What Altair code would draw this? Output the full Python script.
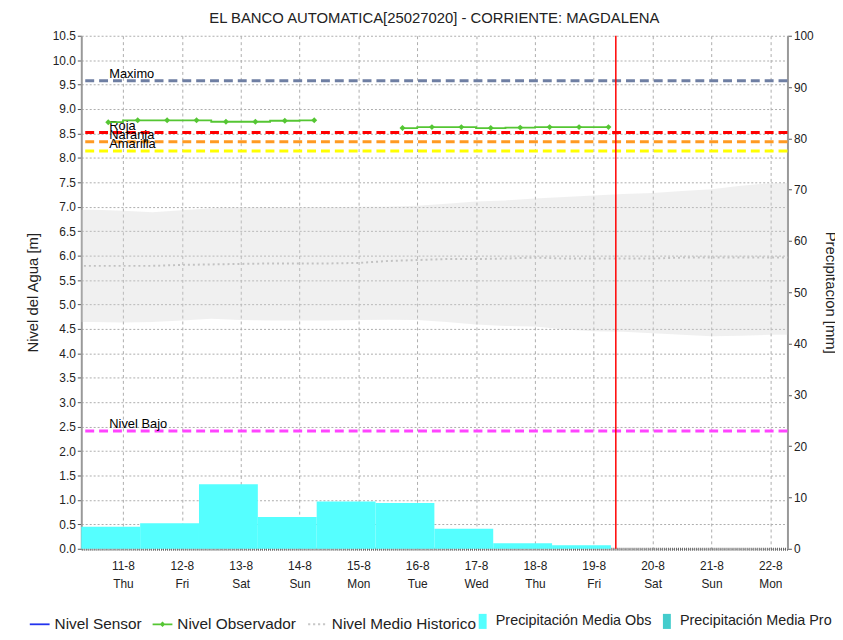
import altair as alt
import pandas as pd

TITLE = "EL BANCO AUTOMATICA[25027020] - CORRIENTE: MAGDALENA"
Y_TITLE = "Nivel del Agua [m]"
Y2_TITLE = "Precipitación [mm]"
FONT = "Liberation Sans"

# ---- x range / ticks (local time, August 2022) ----
tick_days = [11, 12, 13, 14, 15, 16, 17, 18, 19, 20, 21, 22]
now_time = ["2022-08-19T09:00:00"]

# ---- observer readings (every 12 h) ----
obs1_start = "2022-08-10 18:00"
obs1_vals = [8.73, 8.77, 8.77, 8.77, 8.74, 8.74, 8.76, 8.77]
obs2_start = "2022-08-15 18:00"
obs2_vals = [8.61, 8.63, 8.63, 8.61, 8.62, 8.63, 8.63, 8.63]

# ---- historical band (every 12 h from 10-8 00:00) ----
hist_start = "2022-08-10 00:00"
hist_upper = [6.94, 6.94, 6.92, 6.89, 6.93, 6.97, 6.99, 6.99, 6.99, 6.99, 7.00, 7.00, 7.02,
              7.06, 7.11, 7.13, 7.17, 7.20, 7.23, 7.26, 7.28, 7.32, 7.36, 7.43, 7.48, 7.49]
hist_lower = [4.64, 4.64, 4.63, 4.64, 4.67, 4.71, 4.68, 4.67, 4.67, 4.67, 4.68, 4.69, 4.68,
              4.64, 4.59, 4.56, 4.55, 4.49, 4.45, 4.44, 4.41, 4.38, 4.35, 4.36, 4.38, 4.38]
hist_mean = [5.79, 5.79, 5.79, 5.79, 5.81, 5.82, 5.83, 5.84, 5.84, 5.84, 5.85, 5.89, 5.91,
             5.93, 5.93, 5.94, 5.96, 5.94, 5.94, 5.94, 5.94, 5.96, 5.96, 5.96, 5.96, 5.96]

# ---- daily precipitation (from 10-8 07:00) ----
precip_start = "2022-08-10 07:00"
precip_vals = [4.3, 5.0, 12.6, 6.2, 9.2, 8.9, 3.9, 1.1, 0.7]

# ---- thresholds ----
thr_names = ["Maximo", "Roja", "Naranja", "Amarilla", "Nivel Bajo"]
thr_vals = [9.58, 8.52, 8.33, 8.14, 2.41]
thr_colors = ["#6f7fa3", "#ff0000", "#ff9a22", "#ffff00", "#ff44ff"]

left_ticks = [0.0, 0.5, 1.0, 1.5, 2.0, 2.5, 3.0, 3.5, 4.0, 4.5, 5.0, 5.5, 6.0, 6.5, 7.0,
              7.5, 8.0, 8.5, 9.0, 9.5, 10.0, 10.5]
right_ticks = [0, 10, 20, 30, 40, 50, 60, 70, 80, 90, 100]

# ---- legend entries: line-type series and box-type series ----
leg_line_names = ["Nivel Sensor", "Nivel Observador", "Nivel Medio Historico"]
leg_line_colors = ["#2233ee", "#55c633", "#c8c8c8"]
leg_line_shapes = [
    "M-1,-0.09H1V0.09H-1Z",
    "M-1,-0.09H1V0.09H-1Z M0,-0.28L0.28,0L0,0.28L-0.28,0Z",
    "M-0.9,-0.1h0.22v0.2h-0.22Z M-0.4,-0.1h0.22v0.2h-0.22Z M0.1,-0.1h0.22v0.2h-0.22Z M0.6,-0.1h0.22v0.2h-0.22Z",
]
leg_box_names = ["Precipitación Media Obs", "Precipitación Media Pro"]
leg_box_colors = ["#55ffff", "#44cccc"]
leg_box_shape = "M-1,-1.9H1V1.9H-1Z"
# helper anchor for legend-only layers: a time before the visible range (clipped away)
legend_anchor_time = "2022-08-01T00:00:00"

FMT = "%Y-%m-%dT%H:%M:%S"

# ---- tables ----
hist_t = pd.date_range(hist_start, periods=len(hist_upper), freq="12h").strftime(FMT)
hist_df = pd.DataFrame({"t": hist_t, "up": hist_upper, "lo": hist_lower, "mean": hist_mean})

obs_df = pd.concat([
    pd.DataFrame({"t": pd.date_range(obs1_start, periods=len(obs1_vals), freq="12h").strftime(FMT),
                  "v": obs1_vals, "seg": "a"}),
    pd.DataFrame({"t": pd.date_range(obs2_start, periods=len(obs2_vals), freq="12h").strftime(FMT),
                  "v": obs2_vals, "seg": "b"}),
])

p_start = pd.date_range(precip_start, periods=len(precip_vals), freq="D")
precip_df = pd.DataFrame({"s": p_start.strftime(FMT),
                          "e": (p_start + pd.Timedelta(days=1)).strftime(FMT),
                          "p": precip_vals})

thr_df = pd.DataFrame({"name": thr_names, "v": thr_vals, "c": thr_colors,
                       "t": pd.Timestamp(obs1_start).strftime(FMT)})
now_df = pd.DataFrame({"t": now_time})
leg_line_df = pd.DataFrame({"name": leg_line_names, "t": legend_anchor_time, "v": 0.0})
leg_box_df = pd.DataFrame({"name": leg_box_names, "t": legend_anchor_time, "v": 0.0})

# ---- scales / axes ----
x_scale = alt.Scale(domain=[alt.DateTime(year=2022, month=8, date=10, hours=7),
                            alt.DateTime(year=2022, month=8, date=22, hours=7)])
x_axis = alt.Axis(
    values=[alt.DateTime(year=2022, month=8, date=d) for d in tick_days],
    labelExpr="[timeFormat(datum.value, '%-d-%-m'), timeFormat(datum.value, '%a')]",
    title=None, grid=True, gridDash=[3, 3], gridColor="#adadad", ticks=False,
    labelFontSize=12, labelLineHeight=18, labelPadding=12, labelColor="#222",
    labelOverlap=False, labelFlush=False,
    domainColor="#666", domainWidth=3, domainDash=[1, 1],
)
y_scale = alt.Scale(domain=[0, 10.5], nice=False, zero=False)
y_axis = alt.Axis(
    orient="left", values=left_ticks, format=".1f", title=Y_TITLE, grid=True,
    gridDash=[2, 2], gridColor="#adadad", tickSize=4, tickColor="#555",
    domainColor="#999", domainWidth=2, labelFontSize=12, labelColor="#222",
    titleFontSize=15, titleFontWeight="normal", titlePadding=12, titleColor="#222",
)
y2_axis = alt.Axis(
    orient="right", values=right_ticks, title=Y2_TITLE, grid=False, tickSize=4,
    tickColor="#555", domainColor="#999", domainWidth=2, labelFontSize=12,
    labelColor="#222", titleFontSize=15, titleFontWeight="normal", titlePadding=9,
    titleColor="#222",
)


def X(field):
    return alt.X(f"{field}:T", scale=x_scale, axis=x_axis)


def Y(field):
    return alt.Y(f"{field}:Q", scale=y_scale, axis=y_axis)


def legend_props(x, size, offset, pad, fsize):
    return dict(title=None, orient="none", direction="horizontal", columns=5,
                legendX=x, legendY=584, symbolSize=size, symbolOpacity=1,
                symbolStrokeWidth=0, labelFontSize=fsize, labelFont=FONT,
                labelColor="#222", labelOffset=offset, columnPadding=pad, labelLimit=400)


band = alt.Chart(hist_df).mark_area(color="#d0d0d0", opacity=0.33, clip=True).encode(
    x=X("t"), y=Y("up"), y2="lo:Q")
mean_line = alt.Chart(hist_df).mark_line(color="#c2c2c2", strokeDash=[2, 3], strokeWidth=2,
                                         clip=True).encode(x=X("t"), y=Y("mean"))
thr_rules = alt.Chart(thr_df).mark_rule(strokeWidth=3, strokeDash=[9, 5]).encode(
    y=Y("v"), stroke=alt.Stroke("c:N", scale=None))
thr_text = alt.Chart(thr_df).mark_text(align="left", baseline="alphabetic", dy=-3, dx=1,
                                       fontSize=13, font=FONT, color="#000").encode(
    x=X("t"), y=Y("v"), text="name:N")
obs_line = alt.Chart(obs_df).mark_line(interpolate="step", color="#55c633", strokeWidth=1.8).encode(
    x=X("t"), y=Y("v"), detail="seg:N")
obs_pts = alt.Chart(obs_df).mark_point(shape="diamond", filled=True, size=36, color="#55c633",
                                       opacity=1).encode(x=X("t"), y=Y("v"))
now_rule = alt.Chart(now_df).mark_rule(color="#ff0000", strokeWidth=1.5).encode(x=X("t"))

leg_lines = alt.Chart(leg_line_df).mark_point(filled=True, size=400, opacity=1, clip=True).encode(
    x=X("t"), y=Y("v"),
    color=alt.Color("name:N", scale=alt.Scale(domain=leg_line_names, range=leg_line_colors),
                    legend=alt.Legend(**legend_props(-52, 400, 5, 11, 15.5))),
    shape=alt.Shape("name:N", scale=alt.Scale(domain=leg_line_names, range=leg_line_shapes)),
)
leg_boxes = alt.Chart(leg_box_df).mark_point(filled=True, size=64, opacity=1, clip=True,
                                             shape=leg_box_shape).encode(
    x=X("t"), y=Y("v"),
    color=alt.Color("name:N", scale=alt.Scale(domain=leg_box_names, range=leg_box_colors),
                    legend=alt.Legend(**legend_props(398, 64, 6, 8, 14.5))),
)

left = alt.layer(band, mean_line, thr_rules, thr_text, obs_line, obs_pts, now_rule,
                 leg_lines, leg_boxes).resolve_scale(color="independent", shape="independent")

precip = alt.Chart(precip_df).mark_bar(color="#55ffff", cornerRadius=0).encode(
    x=X("s"), x2="e:T",
    y=alt.Y("p:Q", scale=alt.Scale(domain=[0, 100], nice=False, zero=True), axis=y2_axis),
    y2=alt.datum(0),
)

chart = alt.layer(precip, left).resolve_scale(y="independent").properties(
    width=713, height=518,
    title=alt.TitleParams(TITLE, fontSize=15, fontWeight="normal", anchor="middle",
                          color="#222", font=FONT, offset=4),
    autosize=alt.AutoSizeParams(type="none"),
    padding={"left": 74, "top": 25, "right": 48, "bottom": 80},
).configure(font=FONT).configure_view(stroke=None)

chart.save("out.html", embed_options={"renderer": "svg", "actions": False})
